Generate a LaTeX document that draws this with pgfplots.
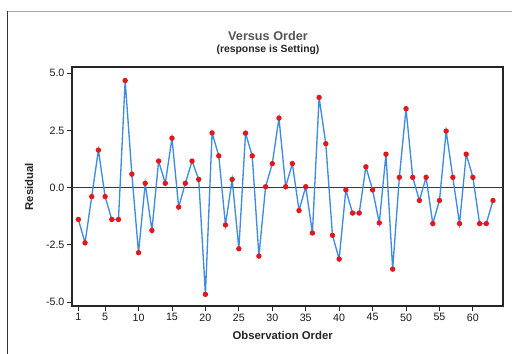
\documentclass[border=0pt]{standalone}
\usepackage{pgfplots}
\pgfplotsset{compat=1.18}
\usepackage{fontspec}
\setmainfont{Liberation Sans}

\definecolor{serieblue}{RGB}{62,140,226}
\definecolor{markred}{RGB}{228,24,28}
\definecolor{refline}{RGB}{45,58,72}
\definecolor{titlegray}{RGB}{85,85,85}

\begin{document}
\begin{tikzpicture}
% page: 384pt x 265.5pt, origin at the top-left corner
\path[use as bounding box] (0,0) rectangle (384pt,-265.5pt);
\fill[white] (0,0) rectangle (384pt,-265.5pt);
% outer frame
\draw[gray!70, line width=0.6pt] (5.5pt,-8.2pt) -- (384pt,-8.2pt);
\draw[black!80, line width=0.8pt] (5.5pt,-8.2pt) -- (5.5pt,-265.5pt);

\begin{axis}[
  at={(54pt,-229.5pt)}, anchor=south west,
  scale only axis,
  width=323.25pt, height=179.25pt,
  xmin=0.05, xmax=64.5,
  ymin=-5.17, ymax=5.27,
  axis line style={black!85, line width=0.8pt},
  xtick={1,5,10,15,20,25,30,35,40,45,50,55,60},
  ytick={-5,-2.5,0,2.5,5},
  yticklabels={-5.0,-2.5,0.0,2.5,5.0},
  tick align=outside,
  xtick pos=bottom, ytick pos=left,
  major tick length=4pt,
  tick style={black!85, line width=0.7pt},
  tick label style={font=\fontsize{8}{9}\selectfont, text=black!90},
  xticklabel style={inner sep=1.5pt},
  yticklabel style={inner sep=1.5pt},
  /pgf/number format/assume math mode=true,
  clip=false,
]
  % zero reference line
  \addplot[refline, line width=0.7pt, forget plot] coordinates {(0.05,0) (64.5,0)};
  % residuals in observation order
  \addplot[serieblue, line width=1pt,
           mark=*, mark size=1.5pt,
           mark options={draw=markred, fill=markred}] coordinates {
    (1,-1.39) (2,-2.41) (3,-0.39) (4,1.64) (5,-0.39) (6,-1.39) (7,-1.39)
    (8,4.68) (9,0.59) (10,-2.84) (11,0.19) (12,-1.87) (13,1.16) (14,0.19)
    (15,2.16) (16,-0.85) (17,0.19) (18,1.16) (19,0.36) (20,-4.66) (21,2.39)
    (22,1.39) (23,-1.63) (24,0.36) (25,-2.67) (26,2.38) (27,1.39) (28,-2.99)
    (29,0.04) (30,1.05) (31,3.04) (32,0.04) (33,1.05) (34,-1.00) (35,0.04)
    (36,-1.98) (37,3.94) (38,1.92) (39,-2.08) (40,-3.12) (41,-0.10) (42,-1.11)
    (43,-1.11) (44,0.91) (45,-0.10) (46,-1.54) (47,1.46) (48,-3.56) (49,0.45)
    (50,3.45) (51,0.45) (52,-0.56) (53,0.45) (54,-1.57) (55,-0.56) (56,2.47)
    (57,0.45) (58,-1.57) (59,1.46) (60,0.45) (61,-1.57) (62,-1.57) (63,-0.56)
  };
\end{axis}

% titles and axis labels
\node[font=\bfseries\fontsize{9.5}{11}\selectfont, text=titlegray] at (201pt,-27pt) {Versus Order};
\node[font=\bfseries\fontsize{7.8}{9}\selectfont, text=black!85] at (201pt,-37.5pt) {(response is Setting)};
\node[font=\bfseries\fontsize{8.5}{10}\selectfont, text=black!85] at (212pt,-251.5pt) {Observation Order};
\node[font=\bfseries\fontsize{8.5}{10}\selectfont, text=black!85, rotate=90] at (21.75pt,-140pt) {Residual};
\end{tikzpicture}
\end{document}
